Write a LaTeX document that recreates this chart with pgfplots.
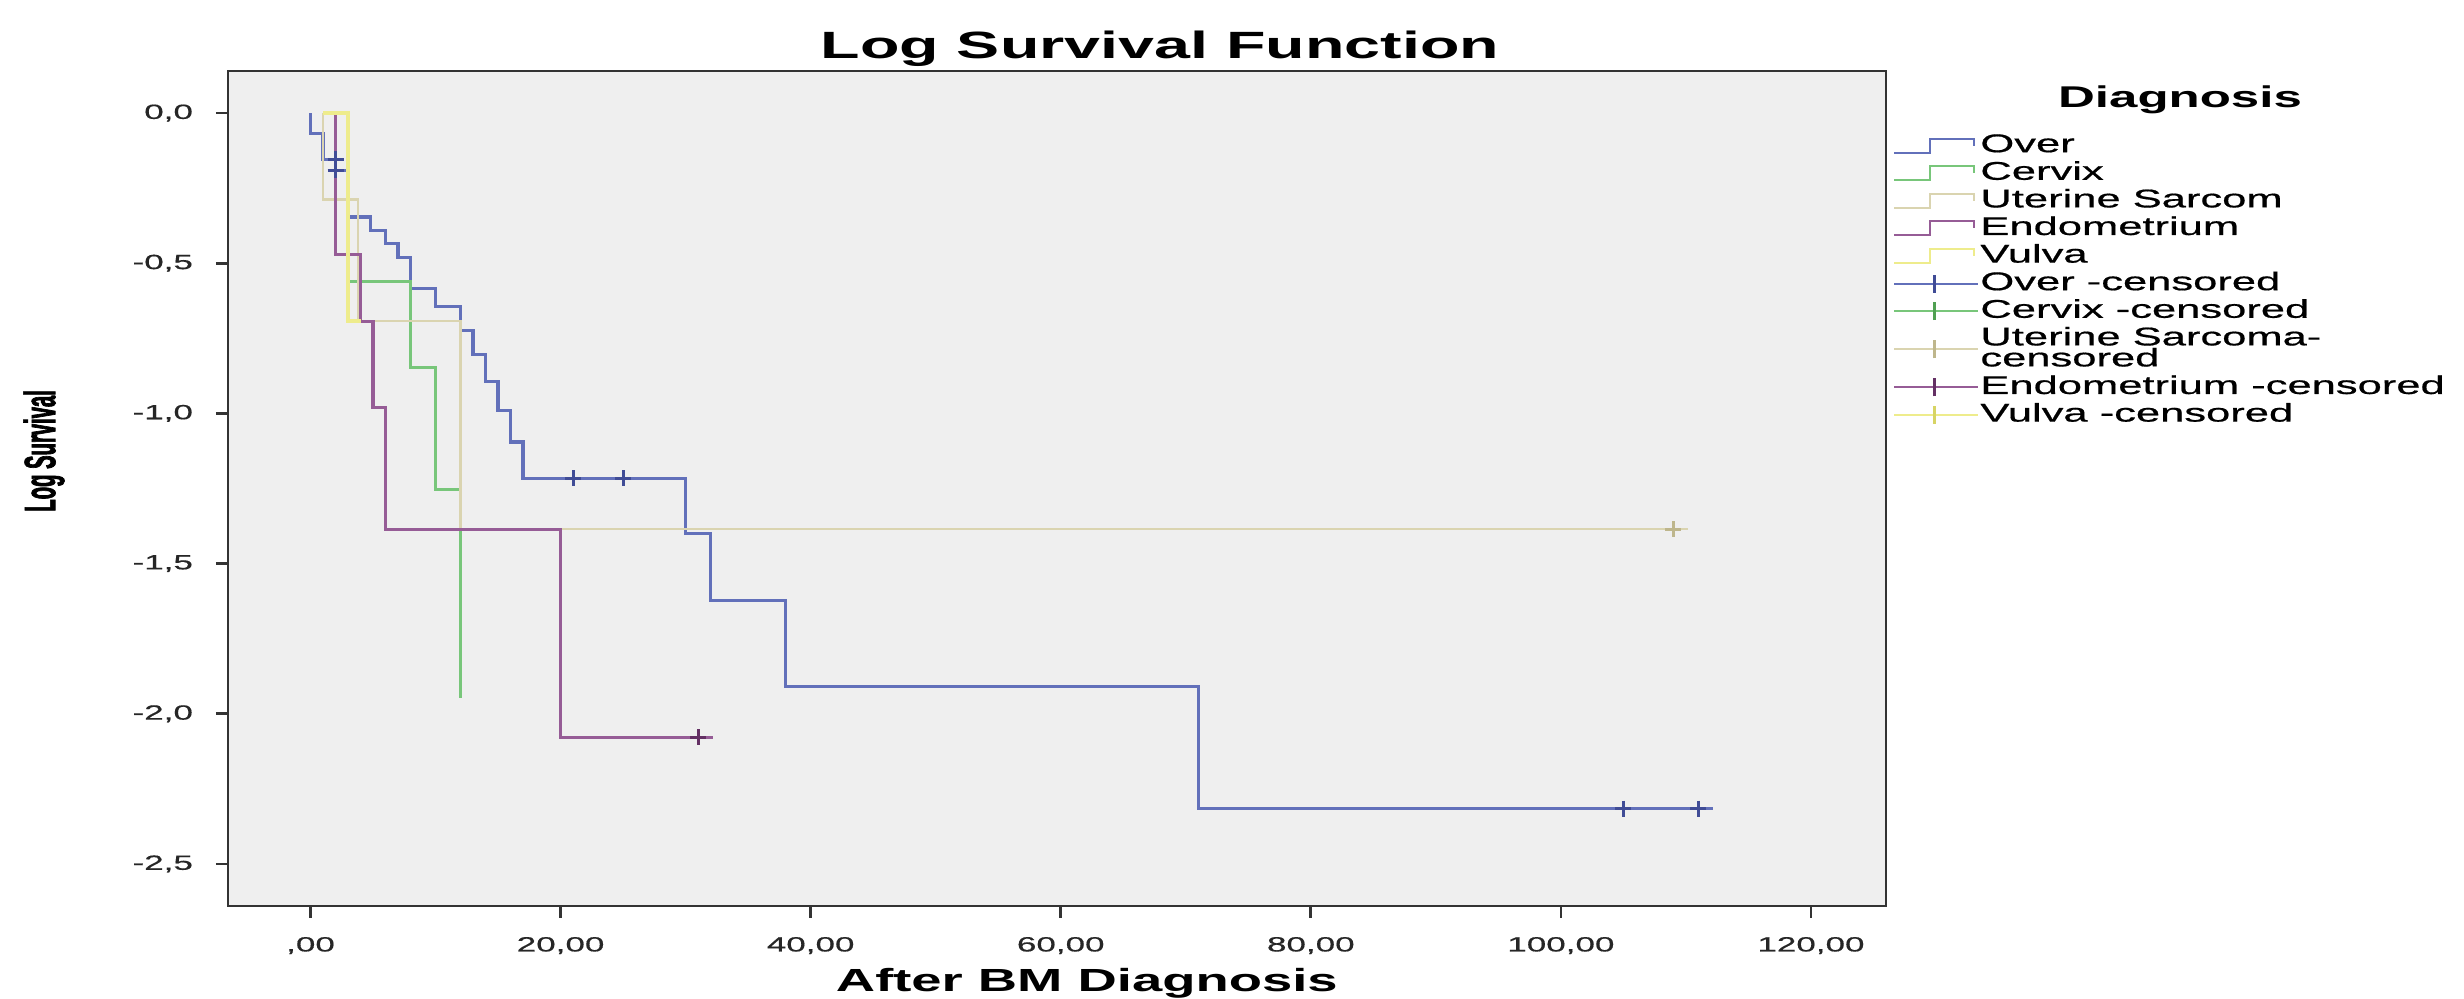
\documentclass[border=0pt]{standalone}
\usepackage{fontspec}
\setmainfont{Liberation Sans}[FakeStretch=1.7, UprightFeatures={FakeBold=0.6}]
\newfontfamily\yfont{Liberation Sans}[FakeStretch=0.46, BoldFeatures={FakeBold=1.5}]
\usepackage{pgfplots}
\pgfplotsset{compat=1.18}

\definecolor{bgc}{RGB}{239,239,239}
\definecolor{overc}{RGB}{98,112,186}
\definecolor{overd}{RGB}{64,76,150}
\definecolor{cervc}{RGB}{120,198,122}
\definecolor{cervd}{RGB}{80,160,82}
\definecolor{uterc}{RGB}{218,212,176}
\definecolor{uterd}{RGB}{190,182,140}
\definecolor{endoc}{RGB}{150,92,150}
\definecolor{endod}{RGB}{100,48,100}
\definecolor{vulvc}{RGB}{238,236,140}
\definecolor{vulvd}{RGB}{215,212,100}

\newcommand\lr{\rule{0pt}{9.7pt}}

\pgfplotsset{
  stepimg/.style={legend image code/.code={
    \draw[##1, line width=1pt] (0pt,-3.5pt) -- (18pt,-3.5pt) -- (18pt,3.5pt) -- (40pt,3.5pt) -- (40pt,0pt);}},
  cimg/.style 2 args={legend image code/.code={
    \draw[#1, line width=1pt] (0pt,0pt) -- (42pt,0pt);
    \draw[#2, line width=1.8pt] (20pt,-4.5pt) -- (20pt,4.5pt);}},
  cens/.style={only marks, mark=+, mark size=4pt, mark options={line width=1.6pt}},
}

\begin{document}
\begin{tikzpicture}
\begin{axis}[name=ax,
  scale only axis, width=829pt, height=417.5pt,
  xmin=-6.6, xmax=126, ymin=-2.64, ymax=0.14,
  axis background/.style={fill=bgc},
  axis line style={line width=1.4pt, black!80},
  tick pos=left, tick align=outside, major tick length=6pt,
  every tick/.style={line width=1.4pt, black!80},
  xtick={0,20,40,60,80,100,120},
  xticklabels={{,00},{20,00},{40,00},{60,00},{80,00},{100,00},{120,00}},
  ytick={-2.5,-2,-1.5,-1,-0.5,0},
  yticklabels={{-2,5},{-2,0},{-1,5},{-1,0},{-0,5},{0,0}},
  ticklabel style={font=\fontsize{10.3}{12}\selectfont, text=black!85},
  xticklabel style={yshift=-6pt},
  yticklabel style={xshift=-8pt},
  /pgf/number format/assume math mode=true,
  title={Log Survival Function},
  title style={font=\fontsize{19}{20}\selectfont\bfseries, at={(axis description cs:0.562,1.0117)}, anchor=center},
  xlabel={After BM Diagnosis},
  xlabel style={font=\fontsize{16}{18}\selectfont\bfseries, at={(axis description cs:0.518,-0.103)}, anchor=base, inner sep=0pt},
  ylabel={Log Survival},
  ylabel style={font=\fontsize{22}{23}\yfont\bfseries, at={(axis description cs:-0.111,0.545)}, anchor=center},
  legend style={draw=none, fill=none, at={(axis description cs:1,1)}, anchor=north west,
    xshift=3.5pt, yshift=-30.2pt, inner sep=0pt, row sep=0pt,
    font=\fontsize{12.8}{10.5}\selectfont,
    cells={anchor=west, align=left}, nodes={inner sep=0.5pt, text depth=3.1pt}},
]
% Over
\addplot[const plot, overc, line width=1.6pt, stepimg] coordinates {
(0,0) (0,-0.067) (1,-0.154) (2,-0.19) (3,-0.346) (4.8,-0.392) (6,-0.435) (7,-0.48)
(8,-0.585) (10,-0.645) (12,-0.725) (13,-0.805) (14,-0.893) (15,-0.99) (16,-1.095)
(17,-1.216) (30,-1.399) (32,-1.622) (38,-1.91) (71,-2.316) (112.2,-2.316)};
\addlegendentry{\lr Over}
% Cervix
\addplot[const plot, cervc, line width=1.6pt, stepimg] coordinates {
(3,0) (3,-0.56) (8,-0.847) (10,-1.253) (12,-1.946)};
\addlegendentry{\lr Cervix}
% Uterine Sarcoma
\addplot[const plot, uterc, line width=1.1pt, stepimg] coordinates {
(1,0) (1,-0.288) (3.8,-0.693) (12,-1.386) (110.2,-1.386)};
\addlegendentry{\lr Uterine Sarcom}
% Endometrium
\addplot[const plot, endoc, line width=1.6pt, stepimg] coordinates {
(2,0) (2,-0.47) (4,-0.693) (5,-0.981) (6,-1.386) (20,-2.079) (32.2,-2.079)};
\addlegendentry{\lr Endometrium}
% Vulva
\addplot[const plot, vulvc, line width=2pt, stepimg] coordinates {
(1,0) (3,-0.693) (4,-0.693)};
\addlegendentry{\lr Vulva}
% censored
\addplot[cens, overd, cimg={overc}{overd}] coordinates {
(2,-0.154) (2,-0.19) (21,-1.216) (25,-1.216) (105,-2.316) (111,-2.316)};
\addlegendentry{\lr Over -censored}
\addlegendimage{cimg={cervc}{cervd}}
\addlegendentry{\lr Cervix -censored}
\addplot[cens, uterd, cimg={uterc}{uterd}] coordinates {(109,-1.386)};
\addlegendentry{\lr Uterine Sarcoma-\\censored}
\addplot[cens, endod, cimg={endoc}{endod}] coordinates {(31,-2.079)};
\addlegendentry{\lr Endometrium -censored}
\addlegendimage{cimg={vulvc}{vulvd}}
\addlegendentry{\lr Vulva -censored}
\end{axis}
\node[font=\fontsize{15}{16}\selectfont\bfseries, xshift=147pt, yshift=-14.5pt] at (ax.north east) {Diagnosis};
\path (ax.south west) ++(-114pt,-46.5pt) rectangle ++(1232pt,499.5pt);
\end{tikzpicture}
\end{document}
